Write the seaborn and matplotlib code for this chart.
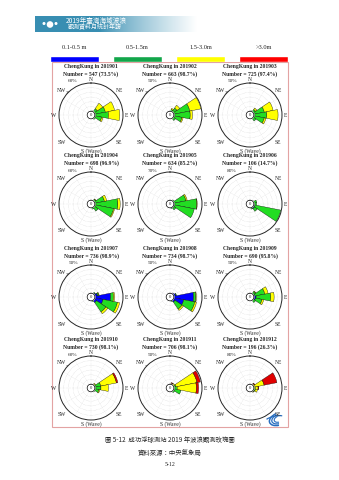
import numpy as np
import matplotlib
matplotlib.use("Agg")
import matplotlib.pyplot as plt
import seaborn as sns
from matplotlib.patches import Rectangle, Arc, Circle

sns.set_style("white")
plt.rcParams["font.family"] = ["Liberation Serif", "DejaVu Serif"]

# ---------------------------------------------------------------- data
sectors = ["N", "NNE", "NE", "ENE", "E", "ESE", "SE", "SSE",
           "S", "SSW", "SW", "WSW", "W", "WNW", "NW", "NNW"]
bin_labels = ["0.1-0.5 m", "0.5-1.5m", "1.5-3.0m", ">3.0m"]
months = ["201901", "201902", "201903", "201904", "201905", "201906",
          "201907", "201908", "201909", "201910", "201911", "201912"]
counts = [547, 663, 725, 698, 634, 106, 736, 734, 690, 730, 706, 196]
valid_pct = [73.5, 98.7, 97.4, 96.9, 85.2, 14.7, 98.9, 98.7, 95.8, 98.1, 98.1, 26.3]
ring_max = [60, 50, 50, 60, 70, 80, 50, 50, 50, 60, 50, 80]

# percent of observations per sector (first 8 sectors N..SSE; rest are zero)
# rows: 0.1-0.5 m, 0.5-1.5 m, 1.5-3.0 m, >3.0 m
rose_201901 = [[0, 0, 0, 1, 1, 1, 0, 0],
               [0, 1, 8, 22, 28, 14, 3, 0],
               [0, 0, 14, 20, 24, 3, 0, 0],
               [0, 0, 0, 0, 0, 0, 0, 0]]
rose_201902 = [[0, 0, 0, 1, 1, 1, 0, 0],
               [0, 3, 8, 28, 28, 14, 5, 0],
               [0, 2, 6, 20, 4, 2, 0, 0],
               [0, 0, 0, 0, 0, 0, 0, 0]]
rose_201903 = [[0, 0, 0, 1, 1, 1, 0, 0],
               [0, 1, 5, 18, 22, 18, 6, 0],
               [0, 0, 3, 16, 20, 3, 0, 0],
               [0, 0, 0, 0, 0, 0, 0, 0]]
rose_201904 = [[0, 0, 0, 1, 1, 1, 0, 0],
               [0, 0, 4, 20, 48, 40, 10, 3],
               [0, 0, 1, 5, 5, 2, 0, 0],
               [0, 0, 0, 0, 0, 0, 0, 0]]
rose_201905 = [[0, 0, 0, 1, 2, 2, 2, 1],
               [0, 0, 3, 30, 55, 50, 6, 1],
               [0, 0, 0, 3, 1, 0, 0, 0],
               [0, 0, 0, 0, 0, 0, 0, 0]]
rose_201906 = [[0, 0, 0, 1, 2, 3, 4, 2],
               [0, 0, 2, 8, 6, 75, 10, 2],
               [0, 0, 0, 0, 0, 0, 0, 0],
               [0, 0, 0, 0, 0, 0, 0, 0]]
rose_201907 = [[0, 0, 2, 5, 28, 15, 5, 0],
               [0, 0, 1, 2, 5, 26, 20, 2],
               [0, 0, 0, 1, 2, 4, 4, 0],
               [0, 0, 0, 0, 0, 0, 0, 0]]
rose_201908 = [[0, 0, 2, 4, 35, 18, 4, 0],
               [0, 0, 0, 1, 4, 20, 15, 2],
               [0, 0, 0, 0, 1, 3, 3, 0],
               [0, 0, 0, 0, 0, 0, 0, 0]]
rose_201909 = [[0, 0, 1, 2, 4, 3, 1, 0],
               [0, 0, 4, 18, 26, 12, 4, 0],
               [0, 0, 1, 6, 6, 3, 0, 0],
               [0, 0, 0, 0, 0, 0, 0, 0]]
rose_201910 = [[0, 0, 0, 1, 1, 1, 0, 0],
               [0, 0, 2, 12, 12, 8, 2, 0],
               [0, 0, 2, 34, 16, 2, 0, 0],
               [0, 0, 0, 3, 0, 0, 0, 0]]
rose_201911 = [[0, 0, 0, 0, 0, 1, 0, 0],
               [0, 1, 1, 4, 6, 12, 3, 0],
               [0, 1, 2, 38, 34, 0, 0, 0],
               [0, 1, 0, 6, 4, 0, 0, 0]]
rose_201912 = [[0, 0, 0, 0, 0, 0, 0, 0],
               [0, 0, 1, 2, 4, 5, 3, 0],
               [0, 0, 3, 28, 8, 6, 1, 0],
               [0, 0, 2, 37, 2, 0, 0, 0]]

roses = [rose_201901, rose_201902, rose_201903, rose_201904, rose_201905, rose_201906,
         rose_201907, rose_201908, rose_201909, rose_201910, rose_201911, rose_201912]

# ---------------------------------------------------------------- styling
W, H = 339, 480
legend_colors = ["#0000ff", "#12a64a", "#ffff00", "#ff0000"]
rose_colors = ["#0000ff", "#22dd22", "#ffff00", "#e00000"]
CJK = ["Noto Sans CJK TC", "DejaVu Sans"]
CALM_R = 0.12
RADIUS = 32
col_x = [91, 170, 250]
row_y = [115, 204, 297, 388]

fig = plt.figure(figsize=(W / 100, H / 100), dpi=100)
fig.patch.set_facecolor("white")

# background canvas in pixel units (y grows downwards)
bg = fig.add_axes([0, 0, 1, 1])
bg.set_xlim(0, W)
bg.set_ylim(H, 0)
bg.axis("off")

# header banner with fading gradient
grad = np.ones((2, 200, 4))
t = np.linspace(0, 1, 200)
base = np.array([0.22, 0.56, 0.70])
fade = np.clip((t - 0.40) / 0.60, 0, 1) ** 0.8
for k in range(3):
    grad[:, :, k] = base[k] * (1 - fade) + 1.0 * fade
bg.imshow(grad, extent=[35, 197, 32, 16], aspect="auto", interpolation="bicubic", zorder=1)
bg.add_patch(Circle((50, 24.5), 2.6, color="white", zorder=2))
bg.add_patch(Circle((44, 23.5), 0.8, color="white", zorder=2))
bg.add_patch(Circle((56, 23.5), 0.8, color="white", zorder=2))
bg.text(66, 20.5, "2019年臺灣海域波浪", color="white", fontsize=4.8,
        family=CJK, va="center", ha="left", zorder=3)
bg.text(68, 27.5, "觀測資料月統計年報", color="white", fontsize=4.3,
        family=CJK, va="center", ha="left", zorder=3)

# outer frame of the panel block
bg.add_patch(Rectangle((52, 62), 236, 365, fill=False, edgecolor="#e3a3a3", lw=0.8))

# caption
bg.text(170, 440, "圖 5-12  成功浮球測站 2019 年波浪觀測玫瑰圖", fontsize=4.6,
        family=CJK, ha="center", va="center")
bg.text(170, 453, "資料來源：中央氣象局", fontsize=4.6, family=CJK,
        ha="center", va="center")
bg.text(170, 465, "5-12", fontsize=4.2, ha="center", va="center")

# small wave logo in the lower right corner of the frame
for w, h, lw in [(20, 12, 1.1), (15, 9, 0.9), (10, 6, 0.8)]:
    bg.add_patch(Arc((279, 419), w, h, angle=-20, theta1=110, theta2=260,
                     color="#2a6fc0", lw=lw))
bg.add_patch(Arc((276, 421), 24, 10, angle=-10, theta1=200, theta2=330,
                 color="#2a6fc0", lw=0.9))

# legend strip drawn with seaborn bars
leg = fig.add_axes([50 / W, 1 - 62 / H, 238 / W, 6 / H])
sns.barplot(x=bin_labels, y=[1, 1, 1, 1], hue=bin_labels, palette=legend_colors,
            width=0.78, legend=False, ax=leg, saturation=1)
leg.set_xlim(-0.39, 3.39)
leg.set_ylim(0, 1)
leg.set_yticks([])
leg.set_ylabel("")
leg.xaxis.tick_top()
leg.tick_params(axis="x", length=0, pad=4, labelsize=4.6)
for s in leg.spines.values():
    s.set_visible(False)

theta_c = np.deg2rad(np.arange(16) * 22.5)
width = np.deg2rad(22.5)
circ = np.linspace(0, 2 * np.pi, 240)

for i, rose in enumerate(roses):
    cx = col_x[i % 3]
    cy = row_y[i // 3]
    vmax = ring_max[i]
    ax = fig.add_axes([(cx - RADIUS) / W, 1 - (cy + RADIUS) / H,
                       2 * RADIUS / W, 2 * RADIUS / H], projection="polar")
    ax.set_theta_zero_location("N")
    ax.set_theta_direction(-1)
    ax.set_ylim(0, 1)
    ax.set_xticks([])
    ax.set_yticks([])
    ax.grid(False)
    ax.set_facecolor("white")
    ax.spines["polar"].set_linewidth(0.7)

    # dotted rings and spokes
    for r in np.linspace(CALM_R, 1, 7)[1:-1]:
        ax.plot(circ, np.full_like(circ, r), color="#bdbdbd", lw=0.3,
                ls=(0, (1, 2)), zorder=1)
    for a in np.deg2rad(np.arange(0, 360, 30)):
        ax.plot([a, a], [CALM_R, 1], color="#c8c8c8", lw=0.3,
                ls=(0, (1, 2.5)), zorder=1)

    # stacked wedges per wave-height class
    bottom = np.full(16, CALM_R)
    for b in range(4):
        pct = np.zeros(16)
        pct[:len(rose[b])] = rose[b]
        h = pct * (1 - CALM_R) / vmax
        m = h > 0
        if m.any():
            ax.bar(theta_c[m], h[m], width=width, bottom=bottom[m],
                   color=rose_colors[b], edgecolor="black", linewidth=0.25, zorder=3)
        bottom = bottom + h

    # calm circle
    ax.fill(circ, np.full_like(circ, CALM_R), color="white", zorder=4)
    ax.plot(circ, np.full_like(circ, CALM_R), color="black", lw=0.5, zorder=4)
    ax.text(0, 0, "0", fontsize=3.4, ha="center", va="center", zorder=5)

    # titles
    bg.text(cx, cy - 48.5, f"ChengKung in {months[i]}", fontsize=4.1,
            weight="bold", ha="center", va="center")
    bg.text(cx, cy - 41, f"Number = {counts[i]} ({valid_pct[i]}%)", fontsize=4.1,
            weight="bold", ha="center", va="center")

    # compass labels
    fs = 4.0
    bg.text(cx, cy - 35.5, "N", fontsize=fs, ha="center", va="center")
    bg.text(cx + 29, cy - 25, "NE", fontsize=fs, ha="center", va="center")
    bg.text(cx - 30, cy - 25, "NW", fontsize=fs, ha="center", va="center")
    bg.text(cx + 36, cy + 0.5, "E", fontsize=fs, ha="center", va="center")
    bg.text(cx - 37, cy + 0.5, "W", fontsize=fs, ha="center", va="center")
    bg.text(cx + 28, cy + 27, "SE", fontsize=fs, ha="center", va="center")
    bg.text(cx - 29, cy + 27, "SW", fontsize=fs, ha="center", va="center")
    bg.text(cx, cy + 36, "S (Wave)", fontsize=fs, ha="center", va="center")

    # ring labels
    bg.text(cx - 18, cy - 33.5, f"{vmax}%", fontsize=3.8, ha="center", va="center")
    bg.text(cx - 20, cy - 21.5, f"{int(vmax * 0.6)}%", fontsize=3.8, ha="center", va="center")
    bg.text(cx - 9, cy - 11.5, f"{int(vmax * 0.2)}%", fontsize=3.8, ha="center", va="center")

fig.savefig("out.png", dpi=100, facecolor="white")
